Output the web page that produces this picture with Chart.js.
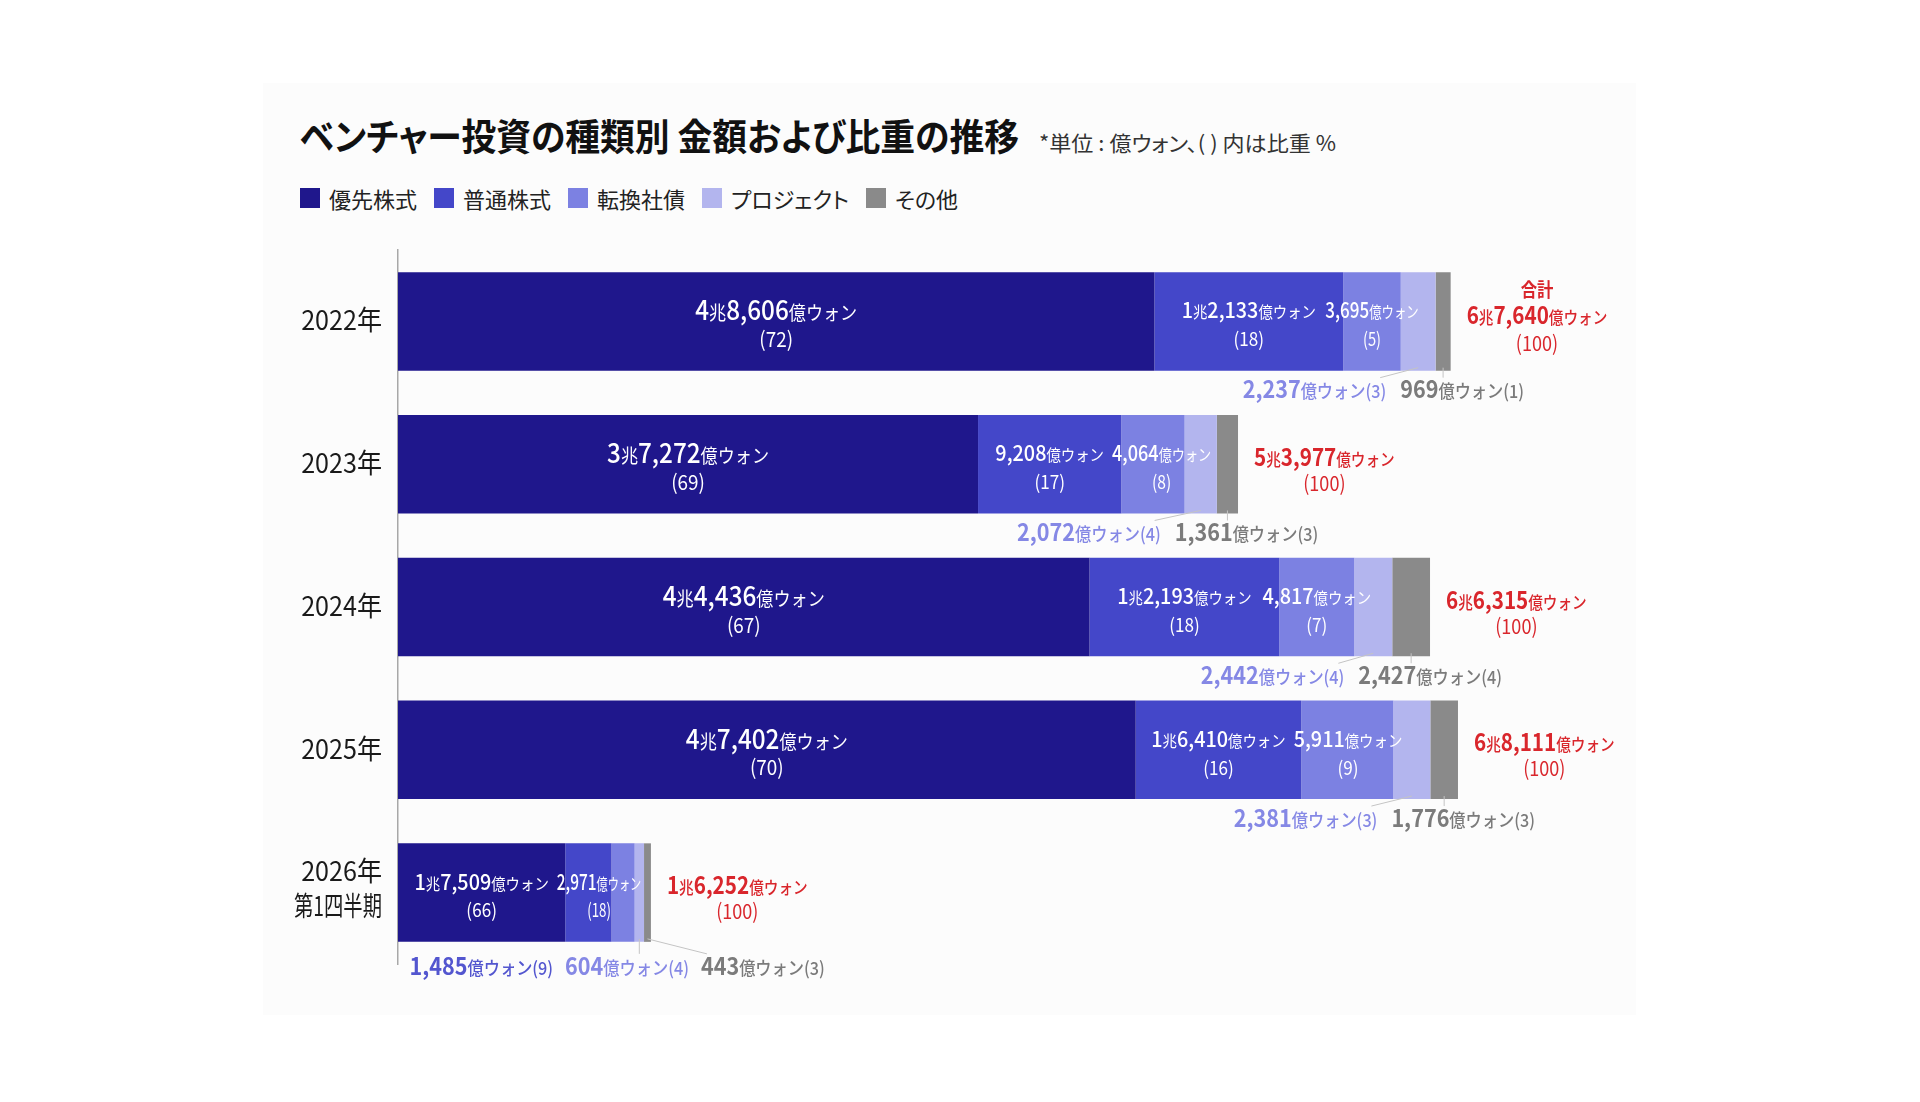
<!DOCTYPE html>
<html>
<head>
<meta charset="utf-8">
<script src="https://cdn.jsdelivr.net/npm/chart.js@4.4.1/dist/chart.umd.min.js"></script>
<style>
html,body{margin:0;padding:0;background:#fff;width:1920px;height:1102px;overflow:hidden;font-family:"Noto Sans CJK JP","Noto Sans",sans-serif;}
#card{position:absolute;left:263px;top:83px;width:1373px;height:932px;background:#fcfcfc;}
#title{position:absolute;left:300px;top:112px;font-size:37px;font-weight:700;line-height:46px;color:#111;transform-origin:left center;white-space:nowrap;font-feature-settings:"palt" 1;}
#unit{position:absolute;left:1039px;top:129px;font-size:21px;line-height:26px;color:#333;white-space:nowrap;transform-origin:left center;font-feature-settings:"palt" 1;}
#legend{position:absolute;left:300px;top:184px;height:28px;display:flex;align-items:center;white-space:nowrap;}
.item{display:flex;align-items:center;margin-right:17px;font-size:22px;line-height:28px;color:#222;font-feature-settings:"palt" 1;}
.sw{width:20px;height:20px;margin-right:9px;}
#wrap{position:absolute;left:0;top:0;width:1920px;height:1102px;}
</style>
</head>
<body>
<div id="card"></div>
<div id="title">ベンチャー投資の種類別 金額および比重の推移</div>
<div id="unit">*単位 : 億ウォン、( ) 内は比重 %</div>
<div id="legend"></div>
<div id="wrap"><canvas id="c"></canvas></div>
<script>
// ---- data (億ウォン) ----
const years = ['2022年', '2023年', '2024年', '2025年', ['2026年', '第1四半期']];
const seriesNames = ['優先株式', '普通株式', '転換社債', 'プロジェクト', 'その他'];
const preferred   = [48606, 37272, 44436, 47402, 10749];
const common      = [12133, 9208, 12193, 10641, 2971];
const convertible = [3695, 4064, 4817, 5911, 1485];
const project     = [2237, 2072, 2442, 2381, 604];
const others      = [969, 1361, 2427, 1776, 443];
// amounts as printed on the labels
const preferredPrinted = [48606, 37272, 44436, 47402, 17509];
const commonPrinted    = [12133, 9208, 12193, 16410, 2971];
const totals = [67640, 53977, 66315, 68111, 16252];
// shares (%) as printed
const preferredPct   = [72, 69, 67, 70, 66];
const commonPct      = [18, 17, 18, 16, 18];
const convertiblePct = [5, 8, 7, 9, 9];
const projectPct     = [3, 4, 4, 3, 4];
const othersPct      = [1, 3, 4, 3, 3];
const totalPct       = [100, 100, 100, 100, 100];

const valueSets = [preferred, common, convertible, project, others];
const printedSets = [preferredPrinted, commonPrinted, convertible, project, others];
const pctSets = [preferredPct, commonPct, convertiblePct, projectPct, othersPct];
const colors = ['#1f178c', '#4447c9', '#7c81e2', '#b3b5ee', '#8a8a8a'];
const belowColors = ['#1f178c', '#4447c9', '#5356cf', '#8588e5', '#7b7b7b'];
const belowFrom = [3, 3, 3, 3, 2]; // first series labelled under the bar

const FONT = '"Noto Sans CJK JP","Noto Sans",sans-serif';
const SX = 0.9;

// legend
const lg = document.getElementById('legend');
seriesNames.forEach((n, i) => {
  const d = document.createElement('div'); d.className = 'item';
  d.innerHTML = '<span class="sw" style="background:' + colors[i] + '"></span><span>' + n + '</span>';
  lg.appendChild(d);
});
function fitText(id, target) {
  const el = document.getElementById(id);
  el.style.transform = 'none';
  const w = el.getBoundingClientRect().width;
  if (w > 0) el.style.transform = 'scaleX(' + (target / w) + ')';
}
function fitHeader() { fitText('title', 719); fitText('unit', 297); }
fitHeader();
if (document.fonts && document.fonts.ready) document.fonts.ready.then(fitHeader);

function fmt(v) {
  return v >= 10000 ? Math.floor(v / 10000) + '兆' + (v % 10000).toLocaleString('en-US') : v.toLocaleString('en-US');
}
function partsOf(str, big, small, wBig, wSmall) {
  const out = [];
  (str.match(/\d[\d,]*|[^\d]+/g) || []).forEach(m => {
    const num = /\d/.test(m[0]);
    out.push({ t: m, size: num ? big : small, weight: num ? wBig : wSmall });
  });
  return out;
}
function measure(ctx, parts) {
  let w = 0;
  parts.forEach(p => { ctx.font = p.weight + ' ' + p.size + 'px ' + FONT; p.w = ctx.measureText(p.t).width; w += p.w; });
  return w;
}
function drawParts(ctx, parts, x, y, align, sx) {
  const w = measure(ctx, parts) * sx;
  const start = align === 'center' ? x - w / 2 : (align === 'right' ? x - w : x);
  ctx.save();
  ctx.translate(start, y);
  ctx.scale(sx, 1);
  let cx = 0;
  parts.forEach(p => { ctx.font = p.weight + ' ' + p.size + 'px ' + FONT; ctx.fillText(p.t, cx, 0); cx += p.w; });
  ctx.restore();
  return w;
}

const labelPlugin = {
  id: 'barLabels',
  afterDatasetsDraw(chart) {
    const ctx = chart.ctx;
    const xs = chart.scales.x, ys = chart.scales.y;
    ctx.save();
    ctx.textBaseline = 'alphabetic';
    ctx.textAlign = 'left';
    years.forEach((yr, j) => {
      const els = valueSets.map((_, i) => chart.getDatasetMeta(i).data[j].getProps(['x', 'y', 'base', 'height'], true));
      const cy = els[0].y, h = els[0].height, bottom = cy + h / 2;
      const endX = xs.getPixelForValue(totals[j]);

      // category label (condensed, drawn at the y scale's tick position)
      const ty = ys.getPixelForTick(j);
      const lines = Array.isArray(yr) ? yr : [yr];
      const offs = lines.length > 1 ? [-22, 13] : [-1];
      ctx.fillStyle = '#1a1a1a';
      lines.forEach((ln, k) => {
        const p = [{ t: ln, size: 27, weight: 400 }];
        const w = measure(ctx, p);
        drawParts(ctx, p, ys.right - 16, ty + offs[k] + 27 * 0.37, 'right', Math.min(0.93, 88 / w));
      });

      // labels inside segments
      let prevRight = -Infinity;
      for (let i = 0; i < belowFrom[j]; i++) {
        const e = els[i];
        const segW = Math.abs(e.x - e.base);
        const large = segW > 300;
        const big = large ? 27 : 22, small = large ? 19 : 16, ps = large ? 21 : 19;
        const p1 = partsOf(fmt(printedSets[i][j]) + '億ウォン', big, small, 500, 400);
        const w1 = measure(ctx, p1);
        let sx = SX;
        if (w1 * sx > segW + 36) sx = Math.max(0.7, (segW + 36) / w1);
        const lw = w1 * sx;
        let cx = (e.x + e.base) / 2;
        cx = Math.max(cx, prevRight + 8 + lw / 2);
        cx = Math.min(cx, endX - 3 - lw / 2);
        prevRight = cx + lw / 2;
        ctx.fillStyle = '#ffffff';
        drawParts(ctx, p1, cx, cy - 11 + big * 0.36, 'center', sx);
        drawParts(ctx, [{ t: '(' + pctSets[i][j] + ')', size: ps, weight: 400 }], cx, cy + 18 + ps * 0.36, 'center', sx);
      }

      // labels under the bar
      const items = [];
      for (let i = belowFrom[j]; i < valueSets.length; i++) {
        const parts = partsOf(fmt(printedSets[i][j]) + '億ウォン', 24, 18, 700, 500)
          .concat([{ t: '(' + pctSets[i][j] + ')', size: 18, weight: 500 }]);
        items.push({ i, parts, w: measure(ctx, parts) * SX });
      }
      const compact = items.length > 2;
      const ly = bottom + (compact ? 24 : 19);
      const last = items[items.length - 1];
      const lastEl = els[last.i];
      last.left = compact ? endX + 50 : (lastEl.x + lastEl.base) / 2 + 19 - last.w / 2;
      const gap = compact ? 12 : 14;
      let right = last.left - gap;
      for (let k = items.length - 2; k >= 0; k--) {
        items[k].left = right - items[k].w;
        right = items[k].left - gap;
      }
      ctx.strokeStyle = '#c4c4c4';
      ctx.lineWidth = 1;
      items.forEach(it => {
        const e = els[it.i];
        const sxc = (e.x + e.base) / 2;
        const tx = Math.min(Math.max(sxc, it.left + 6), it.left + it.w - 6);
        if (Math.abs(tx - sxc) < 70) {
          ctx.beginPath();
          ctx.moveTo(sxc, bottom - 3);
          ctx.lineTo(tx, ly - 12);
          ctx.stroke();
        }
        ctx.fillStyle = belowColors[it.i];
        drawParts(ctx, it.parts, it.left, ly + 24 * 0.36, 'left', SX);
      });

      // total
      ctx.fillStyle = '#d9262c';
      const TSX = 0.86;
      const tp = partsOf(fmt(totals[j]) + '億ウォン', 24, 17, 700, 500);
      const tw = measure(ctx, tp) * TSX;
      const tcx = endX + 16 + tw / 2;
      const pctParts = [{ t: '(' + totalPct[j] + ')', size: 21, weight: 400 }];
      if (j === 0) {
        drawParts(ctx, [{ t: '合計', size: 19, weight: 700 }], tcx, cy - 32 + 19 * 0.38, 'center', TSX);
        drawParts(ctx, tp, tcx, cy - 6 + 24 * 0.36, 'center', TSX);
        drawParts(ctx, pctParts, tcx, cy + 22 + 21 * 0.36, 'center', TSX);
      } else {
        drawParts(ctx, tp, tcx, cy - 7 + 24 * 0.36, 'center', TSX);
        drawParts(ctx, pctParts, tcx, cy + 19 + 21 * 0.36, 'center', TSX);
      }
    });
    ctx.restore();
  }
};

new Chart(document.getElementById('c'), {
  type: 'bar',
  data: {
    labels: years,
    datasets: seriesNames.map((n, i) => ({
      label: n,
      data: valueSets[i],
      backgroundColor: colors[i],
      borderWidth: 0,
      borderSkipped: false,
      stack: 's',
      barPercentage: 0.69,
      categoryPercentage: 1.0
    }))
  },
  options: {
    indexAxis: 'y',
    responsive: true,
    maintainAspectRatio: false,
    animation: false,
    layout: { padding: { left: 275, right: 277, top: 250, bottom: 138 } },
    plugins: { legend: { display: false }, tooltip: { enabled: false } },
    scales: {
      x: { stacked: true, min: 0, max: 80000, display: false },
      y: {
        stacked: true,
        grid: { display: false, drawTicks: false },
        border: { display: true, color: '#a8a8a8', width: 1.5 },
        ticks: { display: false },
        afterFit(scale) { scale.width = 123; }
      }
    }
  },
  plugins: [labelPlugin]
});
</script>
</body>
</html>
